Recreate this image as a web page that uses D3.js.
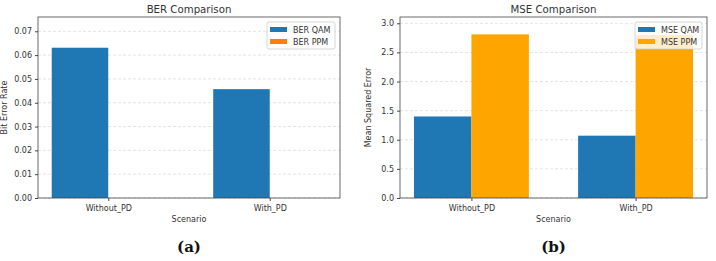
<!DOCTYPE html>
<meta charset="utf-8">
<style>
body { margin: 0; background: #fff; }
text { font-family: "DejaVu Sans", sans-serif; fill: #333; }
.grid line { stroke: #d8d8d8; stroke-dasharray: 3,2; stroke-width: 0.7px; }
.axis path, .axis line { stroke: #444; }
.axis text { font-size: 8px; fill: #333; }
.cap { font-family: "DejaVu Serif", serif; font-weight: bold; font-size: 15px; fill: #111; }
</style>
<body>
<script src="https://d3js.org/d3.v7.min.js"></script>
<script>

// data
var scenarios = ["Without_PD", "With_PD"];
var berQAM = [0.0631, 0.0457];
var berPPM = [0, 0];
var mseQAM = [1.40, 1.07];
var msePPM = [2.81, 2.80];
var berTicks = [0, 0.01, 0.02, 0.03, 0.04, 0.05, 0.06, 0.07];
var mseTicks = [0, 0.5, 1.0, 1.5, 2.0, 2.5, 3.0];

var W = 716, H = 261;
var svg = d3.select("body").append("svg").attr("width", W).attr("height", H);

var barW = 0.35;

function panel(o) {
  var x = d3.scaleLinear().domain([-0.435, 1.435]).range([o.left, o.right]);
  var y = d3.scaleLinear().domain([0, o.ymax]).range([o.bottom, o.top]);
  var g = svg.append("g");

  // grid
  g.append("g").attr("class", "grid")
    .selectAll("line").data(o.ticks).enter().append("line")
    .attr("x1", o.left).attr("x2", o.right)
    .attr("y1", function(d) { return y(d); }).attr("y2", function(d) { return y(d); });

  // bars
  g.selectAll(".qam").data(o.a).enter().append("rect")
    .attr("x", function(d, i) { return x(i - barW); })
    .attr("width", x(barW) - x(0))
    .attr("y", function(d) { return y(d); })
    .attr("height", function(d) { return y(0) - y(d); })
    .style("fill", "#1f77b4");
  g.selectAll(".ppm").data(o.b).enter().append("rect")
    .attr("x", function(d, i) { return x(i); })
    .attr("width", x(barW) - x(0))
    .attr("y", function(d) { return y(d); })
    .attr("height", function(d) { return y(0) - y(d); })
    .style("fill", o.bColor);

  // axes
  g.append("g").attr("class", "axis")
    .attr("transform", "translate(0," + o.bottom + ")")
    .call(d3.axisBottom(x).tickValues([0, 1]).tickFormat(function(d) { return scenarios[d]; })
      .tickSizeOuter(0).tickSize(3))
    .call(function(s) { s.select(".domain").remove(); s.selectAll("text").attr("dy", "0.9em"); });
  g.append("g").attr("class", "axis")
    .attr("transform", "translate(" + o.left + ",0)")
    .call(d3.axisLeft(y).tickValues(o.ticks).tickFormat(d3.format(o.fmt)).tickSize(3))
    .call(function(s) { s.select(".domain").remove(); });

  // frame
  g.append("rect").attr("x", o.left).attr("y", o.top)
    .attr("width", o.right - o.left).attr("height", o.bottom - o.top)
    .style("fill", "none").style("stroke", "#444").style("stroke-width", 0.8);

  var cx = (o.left + o.right) / 2;
  g.append("text").attr("x", cx).attr("y", 13).attr("text-anchor", "middle")
    .style("font-size", "10.2px").text(o.title);
  g.append("text").attr("x", cx).attr("y", 222).attr("text-anchor", "middle")
    .style("font-size", "8px").text("Scenario");
  g.append("text").attr("transform", "translate(" + o.ylx + "," + ((o.top + o.bottom) / 2) + ") rotate(-90)")
    .attr("text-anchor", "middle").style("font-size", "8px").text(o.ylabel);
  g.append("text").attr("class", "cap").attr("x", cx).attr("y", 252)
    .attr("text-anchor", "middle").text(o.cap);

  // legend
  var lx = o.right - 73 + o.legShift, ly = o.top + 5;
  g.append("rect").attr("x", lx).attr("y", ly).attr("width", 68 - o.legShift).attr("height", 27)
    .attr("rx", 2).style("fill", "#fff").style("fill-opacity", 0.8)
    .style("stroke", "#ccc").style("stroke-width", 0.8);
  [[o.names[0], "#1f77b4"], [o.names[1], o.bColor]].forEach(function(d, i) {
    g.append("rect").attr("x", lx + 3).attr("y", ly + 5 + i * 12).attr("width", 17).attr("height", 5)
      .style("fill", d[1]);
    g.append("text").attr("x", lx + 26).attr("y", ly + 11 + i * 12).style("font-size", "8px").text(d[0]);
  });
}

panel({ left: 38, right: 340, top: 17, bottom: 198, ymax: 0.0760, ticks: berTicks, fmt: ".2f",
  a: berQAM, b: berPPM, bColor: "#ff7f0e", title: "BER Comparison", ylabel: "Bit Error Rate",
  ylx: 7, cap: "(a)", names: ["BER QAM", "BER PPM"], legShift: 0 });
panel({ left: 400, right: 707, top: 17, bottom: 198, ymax: 3.108, ticks: mseTicks, fmt: ".1f",
  a: mseQAM, b: msePPM, bColor: "#ffa500", title: "MSE Comparison", ylabel: "Mean Squared Error",
  ylx: 371, cap: "(b)", names: ["MSE QAM", "MSE PPM"], legShift: 1 });

</script>
</body>
